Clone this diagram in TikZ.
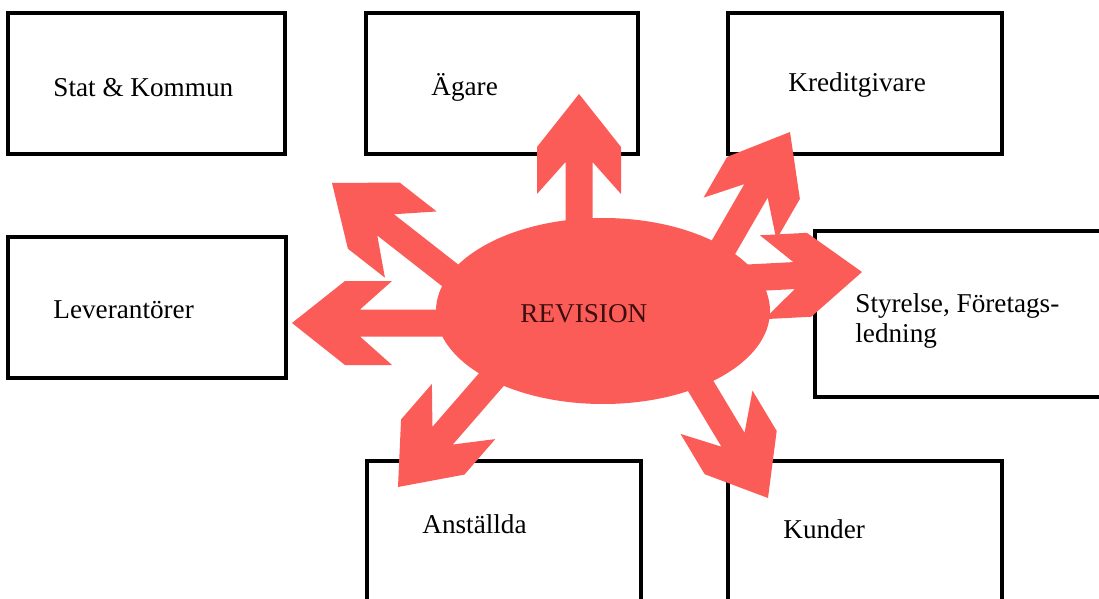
\documentclass[tikz,border=0pt]{standalone}
\usepackage{fontspec}
\setmainfont{Liberation Serif}
\usetikzlibrary{shapes.geometric}
\definecolor{revred}{RGB}{252,92,88}
\definecolor{revtext}{RGB}{60,15,15}
% one fat arrow: tip, direction
\newcommand\revarrow[2]{%
  \fill[revred, shift={#1}, rotate=#2] (0,0) -- (-53,42) -- (-100,42) -- (-68,13.5)
    -- (-190,13.5) -- (-190,-13.5) -- (-68,-13.5) -- (-100,-42) -- (-53,-42) -- cycle;}
\begin{document}
\begin{tikzpicture}[x=0.5pt,y=-0.5pt,
    box/.style={line width=1.6pt},
    lbl/.style={anchor=base west,inner sep=0pt,font=\fontsize{13.6}{14.2}\selectfont}]
  \clip (0,0) rectangle (1099,599);
  \fill[white] (0,0) rectangle (1099,599);
  % boxes
  \draw[box] (8,13) rectangle (285,154);
  \draw[box] (366,13) rectangle (638,154);
  \draw[box] (728,13) rectangle (1002,154);
  \draw[box] (8,237) rectangle (286,378);
  \draw[box] (815,231) rectangle (1120,397);
  \draw[box] (367,461) rectangle (641,620);
  \draw[box] (728,461) rectangle (1002,620);
  % arrows out of the ellipse
  \revarrow{(579,94)}{90}
  \revarrow{(790,132)}{60}
  \revarrow{(862,272)}{3}
  \revarrow{(768,498)}{-59}
  \revarrow{(398,487)}{-131}
  \revarrow{(292,323)}{180}
  \revarrow{(332,183)}{142}
  \node[ellipse, fill=revred, inner sep=0pt, minimum width=167pt, minimum height=93pt] (rev) at (603,311) {};
  % labels
  \node[lbl] (stat) at (53,97) {Stat \& Kommun};
  \node[lbl] (agare) at (431,96) {Ägare};
  \node[lbl] (kredit) at (788,92) {Kreditgivare};
  \node[lbl] (lev) at (53,318) {Leverantörer};
  \node[lbl, align=left] (styr) at (855,343) {Styrelse, Företags-\\[1pt]ledning};
  \node[lbl, text=revtext] (revlbl) at (520,322) {REVISION};
  \node[lbl] (anst) at (422,533) {Anställda};
  \node[lbl] (kund) at (783,538) {Kunder};
\end{tikzpicture}
\end{document}
